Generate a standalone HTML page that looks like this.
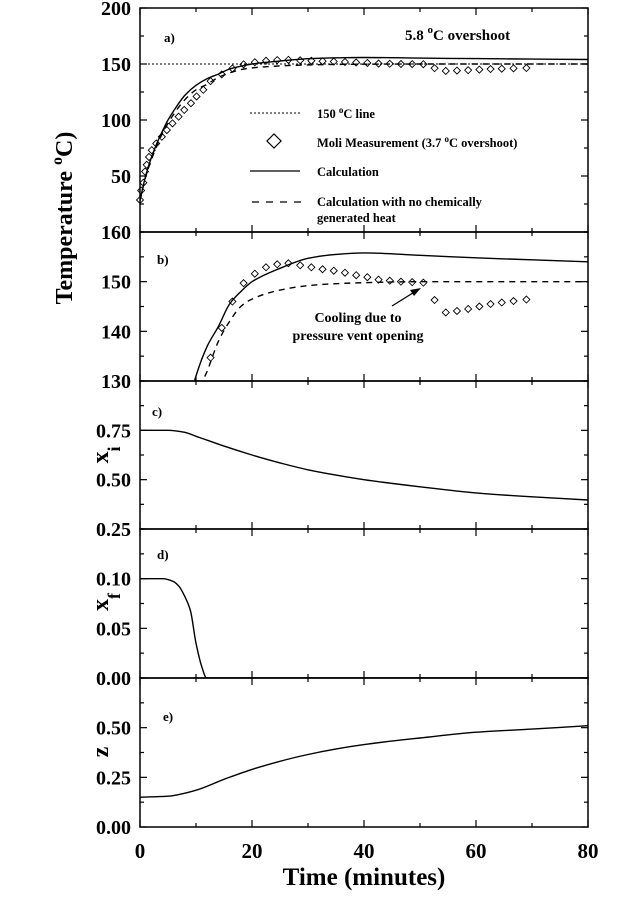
<!DOCTYPE html>
<html><head><meta charset="utf-8"><style>
html,body{margin:0;padding:0;background:#fff;}
svg{display:block;font-family:"Liberation Serif",serif;font-weight:bold;}
</style></head><body>
<svg id="chart" width="626" height="900" viewBox="0 0 626 900" xmlns="http://www.w3.org/2000/svg">
<g id="axes"></g>
<g id="marks"></g>
<g id="labels">
<text transform="translate(72,218) rotate(-90)" text-anchor="middle" font-size="24">Temperature <tspan font-size="16" dy="-10">o</tspan><tspan dy="10">C)</tspan></text>
<text transform="translate(108,455) rotate(-90)" text-anchor="middle" font-size="24">x<tspan font-size="18" dy="12">i</tspan></text>
<text transform="translate(108,602) rotate(-90)" text-anchor="middle" font-size="24">x<tspan font-size="18" dy="12">f</tspan></text>
<text transform="translate(108,752) rotate(-90)" text-anchor="middle" font-size="24">z</text>
<text x="364" y="885" text-anchor="middle" font-size="25">Time (minutes)</text>
<text x="164" y="42" font-size="13">a)</text>
<text x="157" y="264" font-size="13">b)</text>
<text x="152" y="416" font-size="13">c)</text>
<text x="157" y="559" font-size="13">d)</text>
<text x="163" y="721" font-size="13">e)</text>
<text x="405" y="40" font-size="15">5.8 <tspan font-size="11" dy="-7">o</tspan><tspan dy="7">C overshoot</tspan></text>
<text x="358" y="322" text-anchor="middle" font-size="14">Cooling due to</text>
<text x="358" y="340" text-anchor="middle" font-size="14">pressure vent opening</text>
<line x1="392" y1="306" x2="416" y2="291" stroke="#000" stroke-width="1.3"/>
<polygon points="421,288 410,290 414,296" fill="#000"/>
<g font-size="12.5">
<line x1="250" y1="113" x2="300" y2="113" stroke="#000" stroke-dasharray="2,2"/>
<text x="317" y="118">150 <tspan font-size="9" dy="-5">o</tspan><tspan dy="5">C line</tspan></text>
<rect x="269" y="136" width="10" height="10" transform="rotate(45 274 141)" fill="none" stroke="#000" stroke-width="1.2"/>
<text x="317" y="147">Moli Measurement (3.7 <tspan font-size="9" dy="-5">o</tspan><tspan dy="5">C overshoot)</tspan></text>
<line x1="250" y1="171" x2="300" y2="171" stroke="#000" stroke-width="1.3"/>
<text x="317" y="176">Calculation</text>
<line x1="252" y1="202" x2="305" y2="202" stroke="#000" stroke-width="1.3" stroke-dasharray="7,7"/>
<text x="317" y="206">Calculation with no chemically</text>
<text x="317" y="222">generated heat</text>
</g>
</g>
</svg>
<script>
// ---- data ----
const calcTime = [0,1,2,3,4,5,6,8,10,12,14,16,18,20,25,30,35,40,50,60,70,80];
const calcTemp = [28,50,66,79,90,100,108,122,131,137,141,145.5,148,150,152.7,154.7,155.5,155.8,155.3,154.8,154.4,154];
const noChemTemp = [28,49,64,77,88,97,105,118,127,132,138,142,145,146.5,148.3,149.2,149.6,149.8,150,150,150,150];
const measTime = [0,0.2,0.6,0.9,1.2,1.6,2.1,2.9,3.9,4.8,5.8,6.9,7.9,9.1,10.1,11.3,12.6,14.6,16.5,18.5,20.5,22.5,24.5,26.5,28.6,30.6,32.6,34.6,36.6,38.6,40.6,42.6,44.6,46.6,48.6,50.6,52.6,54.6,56.6,58.6,60.6,62.6,64.6,66.7,69];
const measTemp = [28.6,37,44,54,60,67,73,79,85,91,97,103,109,115,121,127,134.7,140.7,146,149.7,151.6,152.9,153.5,153.7,153.3,152.9,152.5,152.2,151.8,151.3,150.9,150.4,150.2,150.0,149.9,149.8,146.3,143.8,144.1,144.5,145,145.5,145.8,146.1,146.4];
const xiTime = [0,5,8,10,12,15,20,25,30,35,40,50,60,70,80];
const xiVals = [0.75,0.75,0.74,0.72,0.70,0.67,0.625,0.585,0.55,0.523,0.50,0.464,0.433,0.413,0.397];
const xfTime = [0,4,6,7,8,9,10,11,11.9,80];
const xfVals = [0.1,0.1,0.097,0.092,0.082,0.068,0.035,0.012,0,0];
const zTime = [0,5,10,15,20,30,40,50,60,70,80];
const zVals = [0.15,0.155,0.185,0.24,0.29,0.365,0.415,0.448,0.477,0.493,0.51];
const xTicks = [0,20,40,60,80];
const ticksA = [50,100,150,200];
const ticksB = [130,140,150,160];
const ticksC = [0.25,0.50,0.75];
const ticksD = [0.00,0.05,0.10];
const ticksE = [0.00,0.25,0.50];

const NS="http://www.w3.org/2000/svg";
const X0=140,X1=588;
const xs=t=>X0+(t/80)*(X1-X0);
const panels={
 a:{top:8,bot:232,min:0,max:200},
 b:{top:232,bot:381,min:130,max:160},
 c:{top:381,bot:529,min:0.25,max:1.0},
 d:{top:529,bot:678,min:0,max:0.15},
 e:{top:678,bot:827,min:0,max:0.75}
};
const ys=(p,v)=>p.bot-(v-p.min)/(p.max-p.min)*(p.bot-p.top);
const axes=document.getElementById('axes');
const marks=document.getElementById('marks');
function mk(tag,attrs,parent){const e=document.createElementNS(NS,tag);for(const k in attrs)e.setAttribute(k,attrs[k]);parent.appendChild(e);return e;}

const defs=mk('defs',{},document.getElementById('chart'));
for(const k in panels){const p=panels[k];const cp=mk('clipPath',{id:'clip-'+k},defs);mk('rect',{x:X0,y:p.top,width:X1-X0,height:p.bot-p.top},cp);}

function drawAxis(key,ticks,fmt,minorStep){
 const p=panels[key];
 const fr=mk('rect',{x:X0,y:p.top,width:X1-X0,height:p.bot-p.top,fill:'none',stroke:'#000','stroke-width':1.5},axes);
 
 
 for(let v=p.min;v<=p.max+1e-9;v+=minorStep){
  const y=ys(p,v);const major=ticks.some(t=>Math.abs(t-v)<1e-9);const L=major?7:4;
  mk('line',{x1:X0,y1:y,x2:X0+L,y2:y,stroke:'#000','stroke-width':1.2},axes);
  mk('line',{x1:X1,y1:y,x2:X1-L,y2:y,stroke:'#000','stroke-width':1.2},axes);
 }
 ticks.forEach(v=>{
  const t=mk('text',{x:131,y:ys(p,v)+7,'text-anchor':'end','font-size':20},axes);
  
  
  t.textContent=fmt(v);
 });
 for(let t=0;t<=80;t+=10){
  const x=xs(t);const L=(t%20===0)?7:4;
  mk('line',{x1:x,y1:p.bot,x2:x,y2:p.bot-L,stroke:'#000','stroke-width':1.2},axes);
  mk('line',{x1:x,y1:p.top,x2:x,y2:p.top+L,stroke:'#000','stroke-width':1.2},axes);
 }
}
drawAxis('a',ticksA,v=>String(v),25);
drawAxis('b',ticksB.filter(v=>v<160),v=>String(v),5);
{const t=mk('text',{x:131,y:ys(panels.b,160)+7,'text-anchor':'end','font-size':20},axes);t.textContent='160';}
drawAxis('c',ticksC,v=>v.toFixed(2),0.125);
drawAxis('d',ticksD,v=>v.toFixed(2),0.025);
drawAxis('e',ticksE,v=>v.toFixed(2),0.125);
xTicks.forEach(t=>{
 const e=mk('text',{x:xs(t),y:858,'text-anchor':'middle','font-size':21},axes);
 
 
 e.textContent=String(t);
});

// monotone cubic (Fritsch-Carlson) path
function monoPath(pts){
 const n=pts.length;
 const dx=[],sl=[];
 for(let i=0;i<n-1;i++){dx.push(pts[i+1][0]-pts[i][0]);sl.push((pts[i+1][1]-pts[i][1])/dx[i]);}
 const m=new Array(n);
 m[0]=sl[0];m[n-1]=sl[n-2];
 for(let i=1;i<n-1;i++){
  if(sl[i-1]*sl[i]<=0)m[i]=0;
  else{const w1=2*dx[i]+dx[i-1],w2=dx[i]+2*dx[i-1];m[i]=(w1+w2)/(w1/sl[i-1]+w2/sl[i]);}
 }
 let d='M'+pts[0][0].toFixed(1)+','+pts[0][1].toFixed(1);
 for(let i=0;i<n-1;i++){
  const h=dx[i]/3;
  d+=` C${(pts[i][0]+h).toFixed(1)},${(pts[i][1]+m[i]*h).toFixed(1)} ${(pts[i+1][0]-h).toFixed(1)},${(pts[i+1][1]-m[i+1]*h).toFixed(1)} ${pts[i+1][0].toFixed(1)},${pts[i+1][1].toFixed(1)}`;
 }
 return d;
}
function line(key,tx,vy,attrs,name){
 const p=panels[key];
 const pts=tx.map((t,i)=>[xs(t),ys(p,vy[i])]);
 const e=mk('path',Object.assign({d:monoPath(pts),fill:'none',stroke:'#000','stroke-width':1.4,'stroke-linejoin':'round','clip-path':'url(#clip-'+key+')'},attrs),marks);
 
 
}
function diamonds(key,tx,vy,name){
 const p=panels[key];
 tx.forEach((t,i)=>{
  const v=vy[i]; if(v<p.min||v>p.max)return;
  const x=xs(t),y=ys(p,v),r=3.5;
  const e=mk('polygon',{points:`${x},${y-r} ${x+r},${y} ${x},${y+r} ${x-r},${y}`,fill:'none',stroke:'#000','stroke-width':0.9},marks);
  
  
 });
}
{const e=mk('line',{x1:X0,y1:ys(panels.a,150),x2:X1,y2:ys(panels.a,150),stroke:'#000','stroke-width':1,'stroke-dasharray':'2,2'},marks);}
line('a',calcTime,calcTemp,{},'calc-line-a');
line('a',calcTime,noChemTemp,{'stroke-dasharray':'6,5'},'nochem-line-a');
diamonds('a',measTime,measTemp,'measurement-a');
line('b',calcTime,calcTemp,{},'calc-line-b');
line('b',calcTime,noChemTemp,{'stroke-dasharray':'6,5'},'nochem-line-b');
diamonds('b',measTime,measTemp,'measurement-b');
line('c',xiTime,xiVals,{},'xi-line');
line('d',xfTime,xfVals,{},'xf-line');
line('e',zTime,zVals,{},'z-line');
</script>
</body></html>
